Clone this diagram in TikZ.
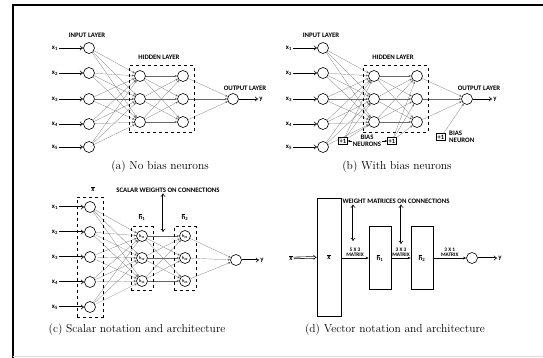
\documentclass[tikz,border=0pt]{standalone}
\usepackage{fontspec}
\usepackage{amsmath}
\usetikzlibrary{arrows.meta,fit}
\newfontfamily\lblfont{Carlito}

\tikzset{
  neuron/.style={draw,circle,semithick,minimum size=11pt,inner sep=0pt},
  conn/.style={draw=black!60,very thin,-{Stealth[length=2.5pt,width=2pt]}},
  feed/.style={double,double distance=1pt,semithick,-{Implies}},
  feedboth/.style={double,double distance=1pt,semithick,{Implies}-{Implies}},
  lbl/.style={font=\lblfont\bfseries\fontsize{6.8}{7.2}\selectfont,inner sep=1pt},
  mlbl/.style={font=\lblfont\bfseries\fontsize{5.3}{5.6}\selectfont,inner sep=1pt,align=center},
  hlbl/.style={font=\lblfont\bfseries\fontsize{4.4}{4.6}\selectfont},
  layerbox/.style={draw,dashed,semithick},
  biasbox/.style={draw,semithick,inner sep=1.2pt,font=\lblfont\bfseries\fontsize{6.5}{6.5}\selectfont},
  vecbox/.style={draw,semithick},
  captext/.style={font=\fontsize{11.5}{13}\selectfont},
}

\begin{document}
\begin{tikzpicture}[x=1pt,y=-1pt]
    \useasboundingbox (0,0) rectangle (543,358);
    % page frame
    \draw[line width=1.6pt] (13,358) -- (13,5) -- (543,5);
    \draw[black!15] (13,356.5) -- (543,356.5);

    % (a) and (b): the same net, (b) shifted right
    \foreach \p/\dx in {a/0,b/234} {
      \begin{scope}[xshift=\dx pt]
        \foreach \i/\y in {1/48,2/73,3/99,4/124,5/147} {
          \node[neuron] (\p-in\i) at (89,\y) {};
          \node[lbl] (\p-x\i) at (55,\y) {x\textsubscript{\i}};
          \draw[feed] (\p-x\i) -- (\p-in\i);
        }
        \foreach \j/\y in {1/76,2/99,3/122} {
          \node[neuron] (\p-h\j) at (140,\y) {};
          \node[neuron] (\p-g\j) at (183,\y) {};
        }
        \node[neuron] (\p-out) at (233,99) {};
        \node[lbl] (\p-y) at (261,99) {y};
        \draw[feed] (\p-out) -- (\p-y);
        \foreach \i in {1,...,5}
          \foreach \j in {1,2,3}
            \draw[conn] (\p-in\i) -- (\p-h\j);
        \foreach \j in {1,2,3} {
          \foreach \k in {1,2,3}
            \draw[conn] (\p-h\j) -- (\p-g\k);
          \draw[conn] (\p-g\j) -- (\p-out);
        }
        \node[layerbox,fit=(\p-h1)(\p-g3),inner xsep=5pt,inner ysep=4.5pt] (\p-hidbox) {};
        \node[lbl] (\p-inlbl) at (87,35) {INPUT LAYER};
        \node[lbl] (\p-hidlbl) at (159,57) {HIDDEN LAYER};
        \node[lbl] (\p-outlbl) at (245,88) {OUTPUT LAYER};
      \end{scope}
    }
    \node[captext] (a-cap) at (160,167) {(a) No bias neurons};
    \node[captext] (b-cap) at (397,167) {(b) With bias neurons};

    % bias neurons of (b)
    \node[biasbox] (b-bias1) at (343,141) {+1};
    \node[biasbox] (b-bias2) at (392,141) {+1};
    \node[biasbox] (b-bias3) at (441,137) {+1};
    \foreach \j in {1,2,3} {
      \draw[conn] (b-bias1) -- (b-h\j);
      \draw[conn] (b-bias2) -- (b-g\j);
    }
    \draw[conn] (b-bias3) -- (b-out);
    \node[lbl,align=center] (b-bn) at (367,141) {BIAS\\NEURONS};
    \draw[conn,draw=black] (b-bn) -- (b-bias1);
    \draw[conn,draw=black] (b-bn) -- (b-bias2);
    \node[lbl,align=left,anchor=west] (b-bon) at (448,137) {BIAS\\NEURON};

    % (c) scalar notation
    \foreach \i/\y in {1/207,2/232,3/257,4/282,5/307} {
      \node[neuron] (c-in\i) at (90,\y) {};
      \node[lbl] (c-x\i) at (55,\y) {x\textsubscript{\i}};
      \draw[feed] (c-x\i) -- (c-in\i);
    }
    \foreach \j/\y in {1/236,2/258,3/281} {
      \node[neuron,hlbl] (c-h\j) at (142,\y) {h\textsubscript{1\j}};
      \node[neuron,hlbl] (c-g\j) at (185,\y) {h\textsubscript{2\j}};
    }
    \node[neuron] (c-out) at (236,260) {};
    \node[lbl] (c-y) at (262,260) {y};
    \draw[feed] (c-out) -- (c-y);
    \foreach \i in {1,...,5}
      \foreach \j in {1,2,3}
        \draw[conn] (c-in\i) -- (c-h\j);
    \foreach \j in {1,2,3} {
      \foreach \k in {1,2,3}
        \draw[conn] (c-h\j) -- (c-g\k);
      \draw[conn] (c-g\j) -- (c-out);
    }
    \node[layerbox,fit=(c-in1)(c-in5),inner xsep=7pt,inner ysep=4pt] (c-xbox) {};
    \node[layerbox,fit=(c-h1)(c-h3),inner xsep=5pt,inner ysep=3.5pt] (c-h1box) {};
    \node[layerbox,fit=(c-g1)(c-g3),inner xsep=5pt,inner ysep=3.5pt] (c-h2box) {};
    \node[lbl] (c-xbar) at (93,189) {$\overline{\mbox{x}}$};
    \node[lbl] (c-h1bar) at (142,217) {$\overline{\mbox{h}}$\textsubscript{1}};
    \node[lbl] (c-h2bar) at (185,217) {$\overline{\mbox{h}}$\textsubscript{2}};
    \node[lbl] (c-sw) at (168,190) {SCALAR WEIGHTS ON CONNECTIONS};
    \coordinate (c-swend) at (163,232);
    \draw[feedboth] (c-sw.south -| c-swend) -- (c-swend);
    \node[captext] (c-cap) at (137,330) {(c) Scalar notation and architecture};

    % (d) vector notation
    \node[lbl] (d-xin) at (291,258) {$\overline{\mbox{x}}$};
    \node[vecbox,lbl,minimum width=24pt,minimum height=118pt] (d-x) at (329,257) {$\overline{\mbox{x}}$};
    \node[vecbox,lbl,minimum width=22pt,minimum height=63pt] (d-h1) at (380,258) {$\overline{\mbox{h}}$\textsubscript{1}};
    \node[vecbox,lbl,minimum width=22pt,minimum height=63pt] (d-h2) at (422,258) {$\overline{\mbox{h}}$\textsubscript{2}};
    \node[neuron] (d-out) at (472,258) {};
    \node[lbl] (d-y) at (500,258) {y};
    \draw[feed] (d-xin) -- (d-x);
    \draw[semithick,-{Stealth[length=3pt,width=2.5pt]}] (d-x.east |- d-h1) -- (d-h1)
        node[midway,above,mlbl] {5 X 3\\MATRIX};
    \draw[semithick,-{Stealth[length=3pt,width=2.5pt]}] (d-h1) -- (d-h2)
        node[midway,above,mlbl] {3 X 3\\MATRIX};
    \draw[semithick,-{Stealth[length=3pt,width=2.5pt]}] (d-h2) -- (d-out)
        node[midway,above,mlbl] {3 X 1\\MATRIX};
    \draw[feed] (d-out) -- (d-y);
    \node[lbl] (d-wm) at (396,201) {WEIGHT MATRICES ON CONNECTIONS};
    \coordinate (d-wa1) at (353,241);
    \coordinate (d-wa2) at (401,244);
    \draw[feedboth] (d-wm.south -| d-wa1) -- (d-wa1);
    \draw[feedboth] (d-wm.south -| d-wa2) -- (d-wa2);
    \node[captext] (d-cap) at (395,330) {(d) Vector notation and architecture};
\end{tikzpicture}
\end{document}
